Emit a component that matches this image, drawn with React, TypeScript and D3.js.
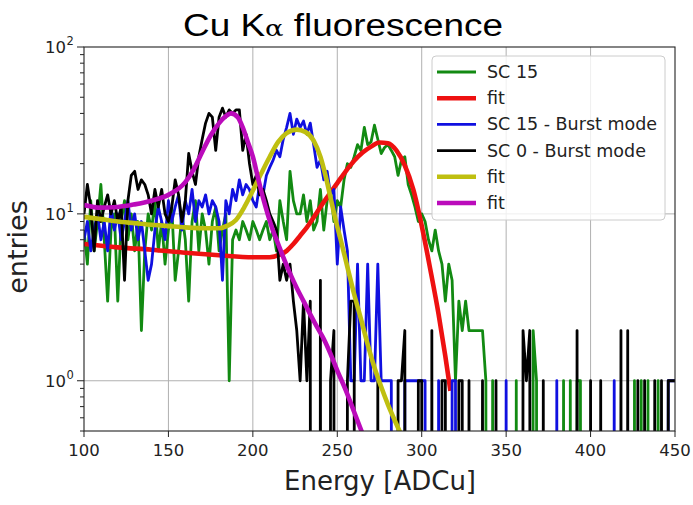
import React from "react";
import * as d3 from "d3";

// ---- data (histogram bins: 100..450 ADCu, width 2) ----
const binStart = 100;
const binStep = 2;

const sc15: number[] = [
  8, 5, 12, 6, 9, 15, 7, 3, 8, 10,
  3, 9, 12, 7, 10, 6, 9, 2, 6, 10,
  8, 12, 6, 9, 5, 8, 11, 4, 6, 10,
  7, 3, 9, 12, 6, 10, 8, 5, 9, 11,
  6, 8, 10, 1, 7, 8, 7, 9, 8, 7,
  9, 8, 7, 8, 9, 7, 8, 6, 12, 9,
  7, 18, 12, 10, 10, 13, 9, 12, 8, 9,
  14, 8, 12, 14, 9, 12, 11, 16, 20, 19,
  22, 26, 24, 33, 26, 27, 34, 28, 23, 25,
  26, 24, 22, 17, 21, 22, 15, 13, 11, 9,
  10, 9, 7, 6, 8, 6, 5, 3, 5, 4,
  1, 3, 2, 3, 2, 2, 2, 2, 2, 1,
  0, 1, 0, 0, 0, 0, 0, 0, 1, 0,
  0, 0, 0, 2, 1, 0, 0, 0, 0, 0,
  0, 0, 1, 0, 1, 0, 1, 1, 0, 0,
  0, 0, 0, 0, 0, 0, 0, 0, 0, 0,
  0, 0, 0, 1, 0, 1, 0, 1, 0, 0,
  1, 0, 0, 0, 0, 0,
];

const sc15Burst: number[] = [
  7, 9, 6, 8, 10, 7, 9, 6, 11, 8,
  10, 7, 9, 12, 8, 10, 7, 9, 6, 4,
  5, 8, 11, 9, 7, 12, 9, 11, 13, 8,
  12, 10, 14, 9, 12, 11, 13, 10, 12, 11,
  9, 4, 12, 10, 14, 12, 16, 13, 15, 14,
  12, 11, 15, 13, 17, 19, 21, 24, 22, 28,
  33, 40, 30, 37, 33, 36, 30, 35, 26, 19,
  21, 16, 18, 13, 14, 5, 11, 8, 6, 1,
  1, 5, 1, 1, 5, 1, 1, 5, 1, 1,
  1, 1, 0, 0, 0, 1, 1, 1, 1, 1,
  1, 1, 0, 0, 0, 1, 0, 0, 0, 1,
  1, 0, 0, 0, 0, 0, 0, 0, 0, 0,
  0, 0, 0, 0, 0, 1, 0, 0, 0, 0,
  0, 0, 0, 0, 0, 0, 0, 0, 0, 0,
  1, 0, 0, 0, 0, 0, 0, 0, 0, 0,
  0, 0, 0, 0, 0, 0, 0, 1, 0, 0,
  0, 0, 0, 0, 0, 0, 0, 0, 0, 0,
  0, 0, 0, 1, 1, 1,
];

const sc0Burst: number[] = [
  10, 15, 11, 6, 12, 9, 11, 13, 10, 12,
  9, 11, 4, 12, 17, 18, 14, 16, 15, 13,
  10, 14, 11, 14, 10, 9, 11, 16, 13, 9,
  12, 23, 18, 15, 22, 28, 35, 40, 38, 24,
  38, 43, 38, 42, 40, 42, 42, 24, 30, 20,
  15, 17, 13, 14, 12, 10, 9, 8, 4, 5,
  4, 5, 3, 2, 1, 3, 1, 3, 0, 0,
  4, 0, 0, 1, 2, 0, 0, 0, 1, 3,
  3, 0, 0, 0, 0, 0, 0, 1, 0, 0,
  0, 0, 0, 1, 1, 2, 0, 0, 0, 1,
  1, 0, 0, 2, 0, 0, 1, 1, 0, 0,
  0, 1, 1, 0, 1, 0, 0, 0, 1, 0,
  0, 0, 1, 0, 0, 0, 0, 0, 0, 0,
  2, 1, 2, 0, 0, 0, 1, 0, 0, 0,
  0, 0, 0, 0, 0, 0, 2, 0, 0, 0,
  1, 0, 0, 1, 0, 0, 0, 0, 0, 2,
  0, 2, 0, 0, 1, 0, 1, 0, 0, 1,
  0, 1, 0, 1, 1, 1,
];

// fit curves
const fitRedE = [100, 120, 140, 160, 180, 200, 210, 216, 220, 224, 228, 232, 236, 240, 245, 250, 255, 260, 265, 270, 275, 280, 285, 290, 295, 300, 305, 310, 314, 317];
const fitRedV = [6.6, 6.3, 6.1, 5.85, 5.65, 5.5, 5.5, 5.7, 6.0, 6.6, 7.4, 8.3, 9.5, 11, 13, 15.3, 18, 20.8, 23.3, 25.3, 26.8, 26.5, 24, 19.5, 14, 8.5, 4.7, 2.5, 1.4, 0.87];

const fitYellowE = [100, 110, 120, 130, 140, 150, 160, 170, 180, 185, 190, 195, 200, 205, 210, 215, 220, 226, 231, 236, 240, 243, 246, 249, 252, 256, 260, 264, 268, 272, 276, 280, 284, 288];
const fitYellowV = [9.6, 9.3, 9.0, 8.8, 8.6, 8.45, 8.3, 8.2, 8.2, 8.5, 9.2, 11, 13.8, 17.5, 22, 27, 30.5, 32, 31, 27.5, 22, 17, 12.5, 9.2, 7, 4.8, 3.3, 2.35, 1.65, 1.2, 0.92, 0.72, 0.58, 0.47];

const fitMagentaE = [100, 110, 120, 130, 140, 150, 160, 165, 170, 175, 180, 184, 187, 191, 194, 197, 200, 203, 206, 209, 212, 215, 218, 222, 226, 230, 234, 238, 242, 246, 250, 255, 260, 265];
const fitMagentaV = [11.3, 10.9, 11.0, 11.4, 12.0, 13.0, 15.5, 18.5, 23.5, 29.5, 35, 38.5, 40, 38, 33, 27, 22, 16.5, 12.5, 9.8, 7.9, 6.6, 5.5, 4.4, 3.6, 3.0, 2.5, 2.1, 1.78, 1.45, 1.15, 0.88, 0.65, 0.48];

const xTicks = [100, 150, 200, 250, 300, 350, 400, 450];
const yMajorExp = [0, 1, 2];

const legendLabels = ["SC 15", "fit", "SC 15 - Burst mode", "SC 0 - Burst mode", "fit", "fit"];

// ---- styling ----
const W = 693;
const H = 505;
const M = { left: 84, right: 675, top: 47, bottom: 431 };
const C = {
  green: "#128a12",
  red: "#ee1111",
  blue: "#1010e0",
  black: "#000000",
  yellow: "#bfbf10",
  magenta: "#bb0bbb",
};

export default function App() {
  const x = d3.scaleLinear().domain([100, 450]).range([M.left, M.right]);
  const y = d3.scaleLog().domain([0.5, 100]).range([M.bottom, M.top]);
  const energies = sc15.map((_, i) => binStart + i * binStep);
  const yv = (v: number) => y(v > 0 ? v : 1e-30);

  const dataLine = (vals: number[]) =>
    d3.line<number>().x((_, i) => x(energies[i])).y((v) => yv(v))(vals) || "";
  const fitLine = (es: number[], vs: number[]) =>
    d3
      .line<number>()
      .x((e) => x(e))
      .y((_, i) => y(vs[i]))
      .curve(d3.curveMonotoneX)(es) || "";

  const minor: number[] = [];
  for (const dec of [0.1, 1, 10]) {
    for (let k = 2; k <= 9; k++) {
      const v = k * dec;
      if (v >= 0.5 && v < 100) minor.push(v);
    }
  }

  const series = [
    { d: dataLine(sc15), c: C.green, w: 2.8 },
    { d: fitLine(fitRedE, fitRedV), c: C.red, w: 4.6 },
    { d: dataLine(sc15Burst), c: C.blue, w: 2.8 },
    { d: dataLine(sc0Burst), c: C.black, w: 2.8 },
    { d: fitLine(fitYellowE, fitYellowV), c: C.yellow, w: 4.6 },
    { d: fitLine(fitMagentaE, fitMagentaV), c: C.magenta, w: 4.6 },
  ];

  const lg = { x: 432, y: 56, w: 233, h: 164, row: 26.2, first: 72 };

  return (
    <svg width={W} height={H} style={{ position: "absolute", left: 0, top: 0, background: "#fff" }}>
      <defs>
        <clipPath id="plotclip">
          <rect x={M.left} y={M.top} width={M.right - M.left} height={M.bottom - M.top} />
        </clipPath>
      </defs>
      <rect x={0} y={0} width={W} height={H} fill="#fff" />
      {/* grid */}
      {xTicks.slice(1, -1).map((t) => (
        <line key={"gx" + t} x1={x(t)} x2={x(t)} y1={M.top} y2={M.bottom} stroke="#b0b0b0" strokeWidth={1} />
      ))}
      {yMajorExp.slice(0, -1).map((e) => (
        <line key={"gy" + e} x1={M.left} x2={M.right} y1={y(Math.pow(10, e))} y2={y(Math.pow(10, e))} stroke="#b0b0b0" strokeWidth={1} />
      ))}
      {/* series */}
      <g clipPath="url(#plotclip)">
        {series.map((s, i) => (
          <path key={i} d={s.d} fill="none" stroke={s.c} strokeWidth={s.w} strokeLinejoin="round" strokeLinecap="butt" />
        ))}
      </g>
      {/* frame */}
      <rect x={M.left} y={M.top} width={M.right - M.left} height={M.bottom - M.top} fill="none" stroke="#222" strokeWidth={1.1} />
      {/* x ticks */}
      {xTicks.map((t) => (
        <g key={"xt" + t}>
          <line x1={x(t)} x2={x(t)} y1={M.bottom} y2={M.bottom + 6} stroke="#222" />
          <text x={x(t)} y={456} textAnchor="middle" fontFamily="DejaVu Sans" fontSize={16.5} fill="#222">
            {t}
          </text>
        </g>
      ))}
      {/* y ticks */}
      {minor.map((v) => (
        <line key={"ym" + v} x1={M.left - 4} x2={M.left} y1={y(v)} y2={y(v)} stroke="#222" />
      ))}
      {yMajorExp.map((e) => (
        <g key={"yt" + e}>
          <line x1={M.left - 7} x2={M.left} y1={y(Math.pow(10, e))} y2={y(Math.pow(10, e))} stroke="#222" />
          <text x={66} y={y(Math.pow(10, e)) + 6} textAnchor="end" fontFamily="DejaVu Sans" fontSize={16.5} fill="#222">
            10
          </text>
          <text x={66.5} y={y(Math.pow(10, e)) - 2} textAnchor="start" fontFamily="DejaVu Sans" fontSize={11.5} fill="#222">
            {e}
          </text>
        </g>
      ))}
      {/* labels */}
      <text x={343} y={36} textAnchor="middle" fontFamily="Liberation Sans" fontSize={31} fill="#000" textLength={320} lengthAdjust="spacingAndGlyphs">
        Cu K<tspan fontFamily="DejaVu Serif" fontSize={23}>α</tspan> fluorescence
      </text>
      <text x={380} y={490} textAnchor="middle" fontFamily="DejaVu Sans" fontSize={26} fill="#222">
        Energy [ADCu]
      </text>
      <text transform={`translate(27,247) rotate(-90)`} textAnchor="middle" fontFamily="DejaVu Sans" fontSize={27} fill="#222">
        entries
      </text>
      {/* legend */}
      <rect x={lg.x} y={lg.y} width={lg.w} height={lg.h} rx={4} fill="#fff" fillOpacity={0.8} stroke="#cccccc" strokeWidth={1} />
      {legendLabels.map((l, i) => {
        const yy = lg.first + i * lg.row;
        return (
          <g key={"lg" + i}>
            <line x1={437} x2={476} y1={yy} y2={yy} stroke={series[i].c} strokeWidth={series[i].w} />
            <text x={487} y={yy + 6} fontFamily="DejaVu Sans" fontSize={17.5} fill="#222">
              {l}
            </text>
          </g>
        );
      })}
    </svg>
  );
}
